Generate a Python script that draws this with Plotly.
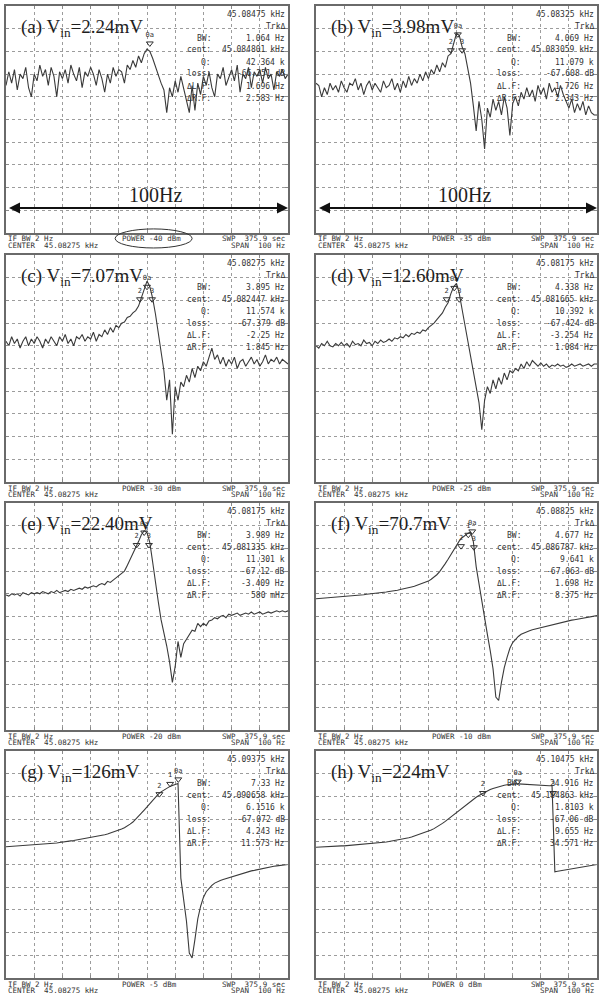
import plotly.graph_objects as go

# frequency offset from the 45.08275 kHz centre, 1 Hz per sample, 100 Hz span
freq_hz = [-50, -49, -48, -47, -46, -45, -44, -43, -42, -41,
           -40, -39, -38, -37, -36, -35, -34, -33, -32, -31,
           -30, -29, -28, -27, -26, -25, -24, -23, -22, -21,
           -20, -19, -18, -17, -16, -15, -14, -13, -12, -11,
           -10, -9, -8, -7, -6, -5, -4, -3, -2, -1,
           0, 1, 2, 3, 4, 5, 6, 7, 8, 9,
           10, 11, 12, 13, 14, 15, 16, 17, 18, 19,
           20, 21, 22, 23, 24, 25, 26, 27, 28, 29,
           30, 31, 32, 33, 34, 35, 36, 37, 38, 39,
           40, 41, 42, 43, 44, 45, 46, 47, 48, 49, 50]

# trace levels in screen divisions (0 = bottom, 10 = top)
trace_a = [6.5, 7.1, 6.6, 7.2, 6.3, 7.0, 6.8, 7.3, 6.4, 6.0,
           7.0, 6.7, 7.4, 6.9, 7.2, 6.5, 7.3, 6.9, 6.0, 7.1,
           6.8, 7.2, 6.6, 7.4, 7.0, 6.7, 7.3, 6.4, 7.1, 6.9,
           7.3, 7.0, 6.5, 7.2, 6.8, 6.2, 7.0, 6.6, 7.3, 6.9,
           7.2, 7.1, 6.6, 7.4, 7.2, 7.6, 7.3, 7.8, 7.5, 7.9,
           8.1, 8.0, 7.7, 7.3, 6.9, 6.6, 6.3, 5.3, 6.4, 6.0,
           6.7, 6.2, 6.9, 6.4, 5.8, 5.3, 6.5, 5.4, 6.6, 6.1,
           6.9, 6.5, 7.1, 6.4, 6.0, 7.0, 6.8, 7.3, 6.5, 6.9,
           7.2, 6.7, 7.4, 6.2, 7.0, 6.8, 7.3, 6.4, 7.1, 6.9,
           7.2, 6.6, 7.3, 6.8, 7.0, 6.3, 7.1, 6.9, 7.2, 6.8, 7.0]
trace_b = [6.6, 6.5, 6.0, 6.4, 6.1, 6.6, 6.3, 6.5, 6.2, 6.7,
           6.4, 6.2, 6.6, 6.5, 6.8, 6.3, 6.6, 6.1, 6.5, 6.7,
           6.3, 6.6, 6.4, 6.2, 6.7, 6.4, 6.5, 6.8, 6.3, 6.6,
           6.2, 6.7, 6.4, 6.9, 6.5, 6.8, 6.6, 7.0, 6.7, 7.1,
           6.8, 7.2, 7.0, 7.4, 7.1, 7.5, 7.3, 7.8, 7.9, 8.4,
           8.8, 8.7, 8.2, 7.9, 7.2, 6.6, 5.6, 4.5, 5.8, 5.0,
           3.7, 5.5, 5.1, 5.9, 5.4, 5.8, 5.2, 6.0, 5.5, 4.3,
           5.7, 6.0, 5.6, 6.2, 5.9, 6.4, 6.0, 6.3, 5.8, 6.5,
           6.1, 6.4, 5.9, 6.6, 6.2, 6.4, 6.0, 6.5, 6.1, 5.8,
           5.5, 5.9, 5.3, 5.7, 5.4, 5.8, 5.2, 5.6, 5.3, 5.2, 5.2]
trace_c = [6.2, 6.0, 6.4, 6.1, 6.3, 5.9, 6.2, 6.4, 6.0, 6.3,
           6.1, 6.4, 6.2, 5.9, 6.3, 6.1, 6.4, 6.2, 6.0, 6.4,
           6.2, 6.5, 6.1, 6.3, 6.0, 6.4, 6.3, 6.5, 6.2, 6.4,
           6.3, 6.6, 6.2, 6.5, 6.4, 6.7, 6.5, 6.8, 6.6, 6.9,
           6.8, 7.0, 7.05, 7.25, 7.3, 7.45, 7.55, 7.75, 8.1, 8.5,
           8.85, 8.6, 8.1, 7.4, 6.6, 5.9, 4.9, 3.6, 4.5, 2.1,
           4.2, 3.6, 4.4, 4.2, 4.7, 4.4, 5.0, 4.6, 5.1, 4.9,
           5.3, 5.1, 5.5, 5.9, 5.4, 5.6, 5.2, 5.5, 5.1, 5.4,
           5.2, 5.5, 5.0, 5.3, 5.4, 5.1, 5.3, 5.5, 5.2, 5.4,
           5.1, 5.3, 5.6, 5.2, 5.4, 5.3, 5.5, 5.2, 5.4, 5.3, 5.2]
trace_d = [6.0, 5.9, 6.1, 6.0, 6.2, 6.0, 5.95, 6.1, 6.0, 6.15,
           6.0, 6.1, 5.95, 6.2, 6.05, 6.1, 6.0, 6.25, 6.1, 6.15,
           6.0, 6.2, 6.1, 6.25, 6.15, 6.2, 6.3, 6.2, 6.35, 6.3,
           6.4, 6.35, 6.5, 6.4, 6.55, 6.5, 6.6, 6.55, 6.7, 6.65,
           6.8, 6.9, 7.0, 7.15, 7.3, 7.45, 7.7, 7.9, 8.3, 8.6,
           8.75, 8.3, 7.6, 6.9, 6.2, 5.5, 4.8, 4.2, 3.5, 2.3,
           3.6, 4.2, 3.9, 4.5, 4.1, 4.6, 4.3, 4.8, 4.5, 4.9,
           4.8, 5.0, 4.9, 5.2, 5.0, 5.3, 5.1, 5.35, 5.2, 5.1,
           5.25, 5.1, 5.2, 5.05, 5.15, 5.1, 5.2, 5.1, 5.15, 5.05,
           5.1, 5.2, 5.1, 5.15, 5.2, 5.1, 5.15, 5.2, 5.1, 5.2, 5.2]
trace_e = [5.95, 5.9, 6.0, 5.95, 6.0, 5.9, 6.05, 6.0, 5.95, 6.05,
           6.0, 6.05, 6.0, 6.1, 6.05, 6.0, 6.1, 6.05, 6.15, 6.05,
           6.1, 6.15, 6.1, 6.2, 6.15, 6.2, 6.25, 6.2, 6.3, 6.25,
           6.3, 6.35, 6.3, 6.4, 6.45, 6.4, 6.55, 6.5, 6.6, 6.7,
           6.77, 6.88, 7.0, 7.25, 7.5, 7.75, 8.0, 8.3, 8.6, 8.78,
           8.7, 8.25, 7.4, 6.45, 5.65, 4.85, 4.3, 3.7, 3.0, 2.1,
           2.8, 3.9, 3.2, 3.8, 4.0, 4.2, 4.4, 4.35, 4.7, 4.55,
           4.7, 4.6, 4.8, 4.85, 4.95, 4.9, 5.0, 5.05, 4.95, 5.1,
           5.05, 5.1, 5.15, 5.05, 5.1, 5.15, 5.1, 5.2, 5.1, 5.15,
           5.2, 5.1, 5.15, 5.2, 5.15, 5.2, 5.25, 5.2, 5.25, 5.2, 5.25]
trace_f = [5.78, 5.79, 5.80, 5.80, 5.82, 5.83, 5.84, 5.85, 5.86, 5.87,
           5.88, 5.89, 5.90, 5.92, 5.93, 5.94, 5.95, 5.96, 5.98, 5.99,
           6.00, 6.02, 6.03, 6.05, 6.06, 6.08, 6.10, 6.11, 6.14, 6.16,
           6.19, 6.21, 6.24, 6.27, 6.30, 6.33, 6.37, 6.41, 6.45, 6.50,
           6.56, 6.64, 6.73, 6.84, 6.98, 7.14, 7.33, 7.52, 7.73, 7.95,
           8.15, 8.33, 8.47, 8.57, 8.66, 8.72, 8.30, 7.20, 6.40, 5.60,
           4.90, 4.20, 3.50, 2.70, 1.45, 1.30, 2.10, 2.75, 3.20, 3.60,
           3.85, 4.00, 4.12, 4.22, 4.28, 4.33, 4.37, 4.42, 4.45, 4.50,
           4.53, 4.56, 4.60, 4.63, 4.66, 4.69, 4.72, 4.74, 4.77, 4.80,
           4.82, 4.84, 4.86, 4.88, 4.90, 4.92, 4.94, 4.96, 4.98, 5.00, 5.04]
trace_g = [5.78, 5.79, 5.79, 5.80, 5.81, 5.81, 5.82, 5.83, 5.83, 5.84,
           5.85, 5.86, 5.87, 5.88, 5.89, 5.91, 5.92, 5.94, 5.95, 5.97,
           5.98, 6.00, 6.02, 6.04, 6.06, 6.08, 6.10, 6.13, 6.15, 6.18,
           6.20, 6.22, 6.24, 6.26, 6.28, 6.31, 6.34, 6.38, 6.42, 6.46,
           6.50, 6.56, 6.62, 6.69, 6.78, 6.87, 6.99, 7.12, 7.26, 7.40,
           7.55, 7.70, 7.85, 7.98, 8.10, 8.20, 8.28, 8.36, 8.43, 8.48,
           8.53, 8.57, 4.40, 3.55, 2.50, 1.10, 0.88, 1.70, 2.60, 3.15,
           3.55, 3.80, 3.95, 4.08, 4.18, 4.25, 4.30, 4.34, 4.38, 4.42,
           4.46, 4.50, 4.54, 4.58, 4.62, 4.65, 4.68, 4.72, 4.74, 4.77,
           4.80, 4.82, 4.85, 4.87, 4.90, 4.92, 4.94, 4.96, 4.97, 4.99, 5.00]
trace_h = [5.76, 5.77, 5.77, 5.78, 5.79, 5.79, 5.80, 5.80, 5.81, 5.82,
           5.82, 5.83, 5.84, 5.85, 5.85, 5.86, 5.87, 5.88, 5.89, 5.90,
           5.91, 5.93, 5.94, 5.96, 5.97, 5.99, 6.01, 6.03, 6.05, 6.07,
           6.10, 6.12, 6.15, 6.18, 6.21, 6.25, 6.29, 6.33, 6.37, 6.42,
           6.47, 6.52, 6.58, 6.65, 6.73, 6.81, 6.90, 7.00, 7.10, 7.20,
           7.30, 7.40, 7.50, 7.60, 7.70, 7.79, 7.88, 7.96, 8.04, 8.11,
           8.18, 8.24, 8.30, 8.35, 8.39, 8.43, 8.46, 8.49, 8.51, 8.53,
           8.54, 8.55, 8.55, 8.54, 8.53, 8.52, 8.51, 8.50, 8.50, 8.49,
           8.49, 8.48, 8.48, 8.47, 8.47, 4.68, 4.70, 4.72, 4.74, 4.76,
           4.78, 4.80, 4.82, 4.84, 4.86, 4.88, 4.90, 4.93, 4.95, 4.97, 5.00]

panel_tag = ["(a)", "(b)", "(c)", "(d)", "(e)", "(f)", "(g)", "(h)"]
vin = ["2.24mV", "3.98mV", "7.07mV", "12.60mV", "22.40mV", "70.7mV", "126mV", "224mV"]
power_dbm = ["-40", "-35", "-30", "-25", "-20", "-10", "-5", "0"]
cursor_khz = ["45.08475", "45.08325", "45.08275", "45.08175",
              "45.08175", "45.08825", "45.09375", "45.10475"]
bw_txt = ["1.064 Hz", "4.069 Hz", "3.895 Hz", "4.338 Hz",
          "3.989 Hz", "4.677 Hz", "7.33 Hz", "24.916 Hz"]
cent_txt = ["45.084801 kHz", "45.083059 kHz", "45.082447 kHz", "45.081665 kHz",
            "45.081335 kHz", "45.086787 kHz", "45.090658 kHz", "45.104863 kHz"]
q_txt = ["42.364 k", "11.079 k", "11.574 k", "10.392 k",
         "11.301 k", "9.641 k", "6.1516 k", "1.8103 k"]
loss_txt = ["-66.251 dB", "-67.608 dB", "-67.379 dB", "-67.424 dB",
            "-67.12 dB", "-67.063 dB", "-67.072 dB", "-67.06 dB"]
dlf_txt = ["1.696 Hz", "1.726 Hz", "-2.25 Hz", "-3.254 Hz",
           "-3.409 Hz", "1.698 Hz", "4.243 Hz", "9.655 Hz"]
drf_txt = ["2.583 Hz", "2.343 Hz", "1.845 Hz", "1.084 Hz",
           "580 mHz", "8.375 Hz", "11.573 Hz", "34.571 Hz"]

# marker triangles on the trace (offset Hz, level, label)
mk_x = [[1], [-2, 0.5, 2], [-2.5, 0, 1.8], [-3.5, -0.8, 1],
        [-3.7, -1, 0.7], [1.6, 4.2, 5.6, 6.2], [4.4, 8.2, 11.1], [9.4, 21.8, 34.4]]
mk_y = [[8.35], [8.05, 8.75, 8.05], [8.05, 8.6, 8.05], [8.05, 8.55, 8.05],
        [8.15, 8.7, 8.15], [8.1, 8.6, 8.75, 8.05], [8.1, 8.55, 8.75], [8.15, 8.65, 8.15]]
mk_t = [["0a"], ["2", "0a", "3"], ["2", "0a", "3"], ["2", "0a", "3"],
        ["2", "0a", "3"], ["2", "1", "0a", "3"], ["2", "1", "0a"], ["2", "0a", "3"]]

span_hz = 100
traces = [trace_a, trace_b, trace_c, trace_d, trace_e, trace_f, trace_g, trace_h]

W, H = 604, 1000
col_px = [(6, 288), (316, 597)]
row_px = [6, 255, 503, 751]
ph = 227
mono = "DejaVu Sans Mono"
serif = "Liberation Serif"
ink = "#333333"
nb = "\u00a0"

fig = go.Figure()

for i in range(8):
    n = i + 1
    sfx = "" if n == 1 else str(n)
    r, c = divmod(i, 2)
    x0, x1 = col_px[c]
    top = row_px[r]
    ax_style = dict(showgrid=True, gridcolor="#9c9c9c", griddash="dot", gridwidth=1,
                    zeroline=False, showticklabels=False, showline=True, mirror="ticks",
                    linecolor="#6a6a6a", linewidth=1.5, ticks="inside", ticklen=3,
                    tickcolor="#8a8a8a", fixedrange=True)
    fig.update_layout(**{
        f"xaxis{sfx}": dict(domain=[x0 / W, x1 / W], range=[-50, 50], dtick=10,
                            anchor=f"y{sfx}", **ax_style),
        f"yaxis{sfx}": dict(domain=[1 - (top + ph) / H, 1 - top / H], range=[0, 10], dtick=1,
                            anchor=f"x{sfx}", **ax_style),
    })
    fig.add_trace(go.Scatter(x=freq_hz, y=traces[i], mode="lines",
                             line=dict(color="#3a3a3a", width=1.1),
                             xaxis=f"x{sfx}", yaxis=f"y{sfx}", hoverinfo="skip"))
    fig.add_trace(go.Scatter(x=mk_x[i], y=mk_y[i], mode="markers+text", text=mk_t[i],
                             textposition="top center",
                             textfont=dict(family=mono, size=7, color=ink),
                             marker=dict(symbol="triangle-down-open", size=6,
                                         color=ink, line=dict(width=1, color=ink)),
                             xaxis=f"x{sfx}", yaxis=f"y{sfx}", hoverinfo="skip"))

    xr, yr = f"x{sfx} domain", f"y{sfx} domain"

    def note(text, x, off, anchor, size=8, family=mono, color=ink):
        fig.add_annotation(text=text, x=x, y=1 - off / ph, xref=xr, yref=yr,
                           xanchor=anchor, yanchor="middle", showarrow=False,
                           font=dict(family=family, size=size, color=color))

    # panel label
    note(f"{panel_tag[i]} V<sub>in</sub>={vin[i]}", 0.045, 22, "left",
         size=19, family=serif, color="#1e1e1e")

    # analyser readout block
    note(f"{cursor_khz[i]} kHz", 0.995, 8, "right")
    note("TrkΔ", 0.995, 20, "right")
    rows = [("BW:", bw_txt[i]), ("cent:", cent_txt[i]), ("Q:", q_txt[i]),
            ("loss:", loss_txt[i]), ("ΔL.F:", dlf_txt[i]), ("ΔR.F:", drf_txt[i])]
    for k, (lab, val) in enumerate(rows):
        off = 32 + 12 * k
        note(lab, 0.735, off, "right")
        note(val, 0.995, off, "right")

    # footer lines
    note("IF BW 2 Hz", 0.0, ph + 6, "left", size=7.5)
    note(f"CENTER{nb}{nb}45.08275 kHz", 0.0, ph + 12.5, "left", size=7.5)
    note(f"POWER {power_dbm[i]} dBm", 0.405, ph + 6, "left", size=7.5)
    note(f"SWP{nb}{nb}375.9 sec", 0.995, ph + 6, "right", size=7.5)
    note(f"SPAN{nb}{nb}{span_hz} Hz", 0.995, ph + 12.5, "right", size=7.5)

    # span arrow on the two low-level panels
    if i < 2:
        fig.add_annotation(x=span_hz / 2, y=1.1, ax=-span_hz / 2, ay=1.1,
                           xref=f"x{sfx}", yref=f"y{sfx}", axref=f"x{sfx}", ayref=f"y{sfx}",
                           showarrow=True, arrowside="end+start", arrowhead=2,
                           arrowsize=1.1, arrowwidth=2, arrowcolor="#111111",
                           standoff=0, startstandoff=0, text=" ")
        fig.add_annotation(text=f"{span_hz}Hz", x=3, y=1.68, xref=f"x{sfx}", yref=f"y{sfx}",
                           showarrow=False, font=dict(family=serif, size=20, color="#1e1e1e"))

# highlight ring round the drive power in panel (a)
fig.add_shape(type="circle", xref="x domain", yref="y domain",
              x0=0.387, x1=0.66, y0=-0.066, y1=0.018,
              line=dict(color="#333333", width=1))

fig.update_layout(width=W, height=H, margin=dict(l=0, r=0, t=0, b=0),
                  paper_bgcolor="white", plot_bgcolor="white", showlegend=False)

# page body has a default 8px margin; drop it so the figure sits at the window corner
fig.write_html("out.html", config={"displayModeBar": False},
               post_script="document.body.style.margin='0';")
